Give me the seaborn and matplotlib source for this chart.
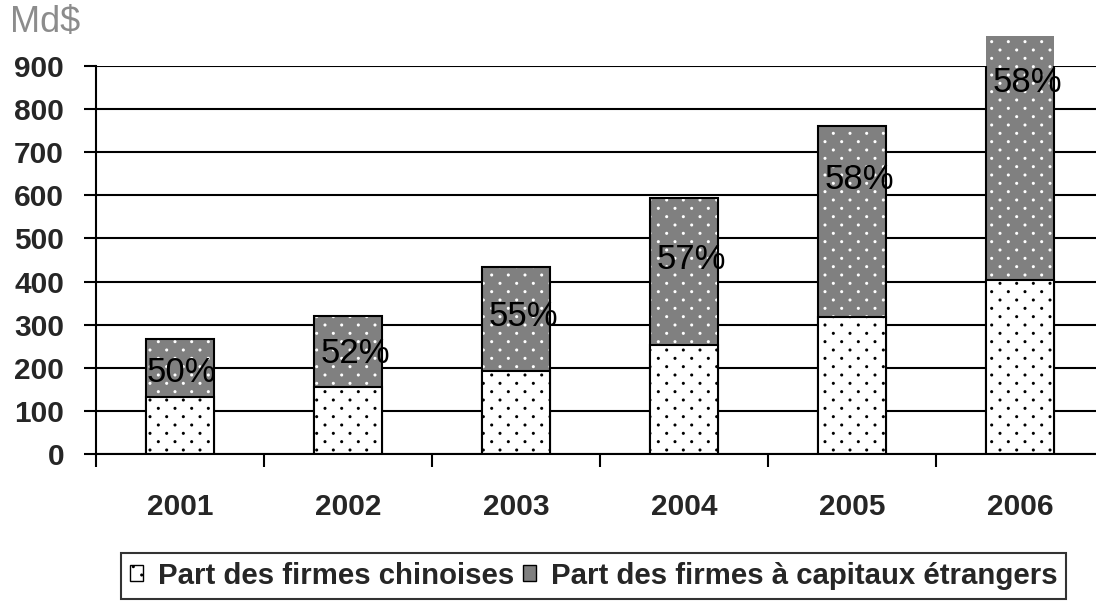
import matplotlib
matplotlib.use("Agg")
import matplotlib.pyplot as plt
import matplotlib.hatch as mhatch
from matplotlib.patches import Patch, Rectangle
import numpy as np
import seaborn as sns

# data (Md$)
years = ["2001", "2002", "2003", "2004", "2005", "2006"]
chinese = [132, 155, 193, 253, 318, 404]
total = [267, 320, 434, 594, 761, 970]
pct_labels = ["50%", "52%", "55%", "57%", "58%", "58%"]
pct_label_y = [190, 232, 318, 452, 636, 862]


# dotted fill like the original: rows twice as close as dots within a row
class StaggeredDots(mhatch.SmallFilledCircles):
    def __init__(self, hatch, density):
        super().__init__(hatch, density)
        n = self.num_rows
        if n:
            self.num_shapes = (n // 2 + 1) ** 2 + (n // 2) ** 2
            self.num_vertices = self.num_shapes * len(self.shape_vertices)

    def set_vertices_and_codes(self, vertices, codes):
        n = self.num_rows
        off = 1.0 / n
        sv = self.shape_vertices * off * self.size
        vp, cp = [], []
        for row in range(n + 1):
            if row % 2 == 0:
                cols = np.linspace(0, 1, n // 2 + 1)
            else:
                cols = np.linspace(off, 1 - off, n // 2)
            for c in cols:
                vp.append(sv + [c, row * off])
                cp.append(self.shape_codes)
        np.concatenate(vp, out=vertices)
        np.concatenate(cp, out=codes)


mhatch._hatch_types = [StaggeredDots if h is mhatch.SmallFilledCircles else h
                       for h in mhatch._hatch_types]

sns.set_style("white")
plt.rcParams['font.family'] = ['Liberation Sans', 'DejaVu Sans']
plt.rcParams['hatch.linewidth'] = 1.0

gray = "#808080"
w = 0.405

fig = plt.figure(figsize=(10.96, 6.01), dpi=100)
ax = fig.add_axes([96 / 1096, 147 / 601, 1008 / 1096, 388 / 601])

# foreign-capital part = full stacked bar, drawn first in gray
sns.barplot(x=years, y=total, color=gray, width=w, linewidth=0,
            saturation=1, ax=ax, zorder=3)
tot_patches = list(ax.patches)
for p in tot_patches:
    p.set_clip_on(False)
    x0, y0 = p.get_x(), p.get_y()
    pw, ph = p.get_width(), p.get_height()
    # white dots over the gray part
    ax.add_patch(Rectangle((x0, y0), pw, ph, fill=False, hatch="..",
                           edgecolor="white", linewidth=0, zorder=3.1,
                           clip_on=False))
    # black outline, clipped at the top of the axes
    ax.add_patch(Rectangle((x0, y0), pw, ph, fill=False, edgecolor="black",
                           linewidth=1.5, zorder=3.2))

# chinese firms part
sns.barplot(x=years, y=chinese, color="white", width=w, saturation=1,
            edgecolor="black", linewidth=1.5, hatch="..", ax=ax, zorder=4)

for i, (lab, yy) in enumerate(zip(pct_labels, pct_label_y)):
    dx = 0.005 if i == 0 else 0.04
    ax.text(i - w / 2 + dx, yy, lab, fontsize=25, ha="left", va="center",
            color="black", zorder=6, clip_on=False)

ax.set_xlim(-0.5, 5.5)
ax.set_ylim(0, 900)
ax.set_yticks(range(0, 1000, 100))
ax.set_xticks([i + 0.5 for i in range(-1, 6)], minor=True)
ax.tick_params(axis="x", which="major", length=0, pad=28)
ax.tick_params(axis="x", which="minor", length=9, width=1.5, direction="out",
               color="black", bottom=True)
ax.tick_params(axis="y", length=9, width=1.5, direction="out", pad=14,
               color="black", left=True)
for lab in ax.get_xticklabels() + ax.get_yticklabels():
    lab.set_fontsize(21.5)
    lab.set_fontweight("bold")
ax.set_xlabel("")
ax.set_ylabel("")
ax.grid(axis="y", color="black", linewidth=1.5, zorder=0)
ax.set_axisbelow(True)
for s in ["top", "right"]:
    ax.spines[s].set_visible(False)
for s in ["left", "bottom"]:
    ax.spines[s].set_color("black")
    ax.spines[s].set_linewidth(1.5)
    ax.spines[s].set_zorder(5)

fig.text(10 / 1096, 1 - 32 / 601, "Md$", fontsize=26, color="#8c8c8c",
         ha="left", va="baseline")

handles = [Patch(facecolor="white", edgecolor="black", hatch="..", linewidth=1),
           Patch(facecolor=gray, edgecolor="black", linewidth=1)]
leg = fig.legend(handles, ["Part des firmes chinoises",
                           "Part des firmes à capitaux étrangers"],
                 loc="upper left", bbox_to_anchor=(121 / 1096, 1 - 553 / 601),
                 ncol=2, frameon=True, fancybox=False, edgecolor="black",
                 prop={"weight": "bold", "size": 21.2}, handlelength=0.45,
                 handleheight=0.45, handletextpad=0.5, columnspacing=0.3,
                 borderpad=0.3, borderaxespad=0)
leg.get_frame().set_linewidth(1.5)

fig.savefig("out.png", dpi=100)
